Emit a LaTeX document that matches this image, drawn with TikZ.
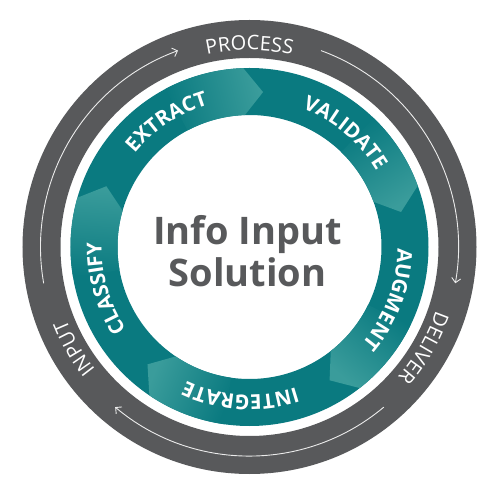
\documentclass[tikz,border=0pt]{standalone}
\usepackage{fontspec}
\newfontfamily\osans{Open Sans}
\usetikzlibrary{decorations.text,arrows.meta}
\definecolor{ringgrey}{HTML}{58595B}
\definecolor{tealdark}{HTML}{0A7A80}
\definecolor{teallight}{HTML}{3A9C9B}
\definecolor{txtgrey}{HTML}{58595B}
\newcommand{\outerfont}{\osans\fontsize{20}{24}\selectfont}
\newcommand{\innerfont}{\osans\bfseries\fontsize{20.5}{24}\selectfont}
\begin{document}
\begin{tikzpicture}[x=1pt,y=1pt,
  outertext/.style={decorate, decoration={text along path, text={|\outerfont|#1}, text align={center}, text color=white}},
  innertext/.style={decorate, decoration={text along path, text={|\innerfont|#1}, text align={center}, text color=white}},
  arrowline/.style={draw=white!92!black, line width=0.9, -{Straight Barb[length=4.5,width=9]}}]
\useasboundingbox (-249.5,-256) rectangle (250.5,247);
% rings
\fill[ringgrey, even odd rule] (0,0) circle[radius=227] (0,0) circle[radius=189];
\fill[tealdark, even odd rule] (0,0) circle[radius=179] (0,0) circle[radius=132];
% chevron highlights
\foreach \b in {92,20,-52,-124,-196}{
  \shade[top color=teallight, bottom color=tealdark, shading angle={\b+12-180}]
    (\b+26:179) arc[start angle=\b+26, end angle=\b, radius=179]
    -- (\b-7:155.5) -- (\b:132)
    arc[start angle=\b, end angle=\b+26, radius=132] -- cycle;
}
% outer arrows
\draw[arrowline] (190:209) arc[start angle=190, end angle=110, radius=209];
\draw[arrowline] (70:209) arc[start angle=70, end angle=-10, radius=209];
\draw[arrowline] (-50:209) arc[start angle=-50, end angle=-130, radius=209];
% outer texts
\path[outertext=PROCESS] (120:197) arc[start angle=120, end angle=60, radius=197];
\path[outertext=DELIVER] (0:197) arc[start angle=0, end angle=-60, radius=197];
\path[outertext=INPUT] (240:197) arc[start angle=240, end angle=180, radius=197];
% inner texts
\path[innertext=EXTRACT] (153.5:148) arc[start angle=153.5, end angle=93.5, radius=148];
\path[innertext=VALIDATE] (80:148) arc[start angle=80, end angle=20, radius=148];
\path[innertext=AUGMENT] (9.5:148) arc[start angle=9.5, end angle=-50.5, radius=148];
\path[innertext=INTEGRATE] (-63.5:148) arc[start angle=-63.5, end angle=-123.5, radius=148];
\path[innertext=CLASSIFY] (226:148) arc[start angle=226, end angle=166, radius=148];
% centre
\node[font=\osans\bfseries\fontsize{38}{42}\selectfont, text=txtgrey, align=center] (title) at (-2,-4.5) {Info Input\\Solution};
\end{tikzpicture}
\end{document}
